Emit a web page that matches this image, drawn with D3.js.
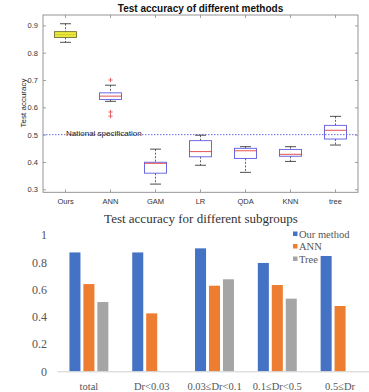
<!DOCTYPE html>
<html>
<head>
<meta charset="utf-8">
<script src="https://cdn.jsdelivr.net/npm/d3@7"></script>
<style>
  body { margin: 0; background: #fff; }
  svg { display: block; }
</style>
</head>
<body>
<div id="chart"></div>
<script>
// top chart: box plot per method
const methods = ["Ours", "ANN", "GAM", "LR", "QDA", "KNN", "tree"]
const whiskerLow  = [0.838, 0.622, 0.319, 0.388, 0.362, 0.402, 0.462]
const q1          = [0.856, 0.629, 0.359, 0.419, 0.413, 0.421, 0.484]
const median      = [0.866, 0.641, 0.395, 0.438, 0.441, 0.428, 0.516]
const q3          = [0.877, 0.653, 0.399, 0.478, 0.450, 0.446, 0.534]
const whiskerHigh = [0.906, 0.681, 0.447, 0.498, 0.456, 0.456, 0.567]
const outliers    = [[], [0.700, 0.583, 0.568], [], [], [], [], []]
const topTicks = [0.3, 0.4, 0.5, 0.6, 0.7, 0.8, 0.9]
const nationalSpec = 0.5

// bottom chart: grouped bars per subgroup
const groups = ["total", "Dr<0.03", "0.03≤Dr<0.1", "0.1≤Dr<0.5", "0.5≤Dr"]
const seriesNames = ["Our method", "ANN", "Tree"]
const ourValues  = [0.872, 0.872, 0.902, 0.795, 0.846]
const annValues  = [0.640, 0.425, 0.628, 0.633, 0.479]
const treeValues = [0.508, null, 0.675, 0.533, null]
const bottomTicks = [0, 0.2, 0.4, 0.6, 0.8, 1]

const width = 369, height = 392

const svg = d3.select("#chart").append("svg")
    .attr("width", width)
    .attr("height", height)

// ---------- top box plot ----------
const topM = {left: 43, right: 358, top: 15, bottom: 192.3}
const sans = "'Liberation Sans', Arial, sans-serif"

let x = d3.scaleBand()
    .domain(methods)
    .range([topM.left, topM.right])

let y = d3.scaleLinear()
    .domain([0.289, 0.938])
    .range([topM.bottom, topM.top])

let g1 = svg.append("g").attr("font-family", sans)

g1.append("text")
    .attr("x", 200.5)
    .attr("y", 12)
    .attr("text-anchor", "middle")
    .attr("font-size", 10)
    .attr("font-weight", "bold")
    .attr("fill", "#111")
    .text("Test accuracy of different methods")

// national specification line
g1.append("line")
    .attr("x1", topM.left).attr("x2", topM.right)
    .attr("y1", y(nationalSpec)).attr("y2", y(nationalSpec))
    .attr("stroke", "#5a5ae0")
    .attr("stroke-width", 0.9)
    .attr("stroke-dasharray", "1.5,1.5")

g1.append("text")
    .attr("x", 66)
    .attr("y", y(nationalSpec) + 1.5)
    .attr("font-size", 8)
    .attr("fill", "#222")
    .text("National specification")

// boxes
const cx = m => x(m) + x.bandwidth() / 2
const boxW = 22, capW = 11

let boxes = g1.append("g")
    .selectAll("g")
    .data(methods)
    .join("g")

boxes.append("line")
    .attr("x1", cx).attr("x2", cx)
    .attr("y1", (d, i) => y(whiskerHigh[i]))
    .attr("y2", (d, i) => y(q3[i]))
    .attr("stroke", "#222")
    .attr("stroke-width", 0.7)
    .attr("stroke-dasharray", "2,1.5")

boxes.append("line")
    .attr("x1", cx).attr("x2", cx)
    .attr("y1", (d, i) => y(q1[i]))
    .attr("y2", (d, i) => y(whiskerLow[i]))
    .attr("stroke", "#222")
    .attr("stroke-width", 0.7)
    .attr("stroke-dasharray", "2,1.5")

boxes.append("line")
    .attr("x1", d => cx(d) - capW / 2).attr("x2", d => cx(d) + capW / 2)
    .attr("y1", (d, i) => y(whiskerHigh[i]))
    .attr("y2", (d, i) => y(whiskerHigh[i]))
    .attr("stroke", "#222")
    .attr("stroke-width", 0.8)

boxes.append("line")
    .attr("x1", d => cx(d) - capW / 2).attr("x2", d => cx(d) + capW / 2)
    .attr("y1", (d, i) => y(whiskerLow[i]))
    .attr("y2", (d, i) => y(whiskerLow[i]))
    .attr("stroke", "#222")
    .attr("stroke-width", 0.8)

boxes.append("rect")
    .attr("x", d => cx(d) - boxW / 2)
    .attr("width", boxW)
    .attr("y", (d, i) => y(q3[i]))
    .attr("height", (d, i) => y(q1[i]) - y(q3[i]))
    .attr("fill", (d, i) => i == 0 ? "#f0ee3c" : "none")
    .attr("stroke", (d, i) => i == 0 ? "#6a6a30" : "#5a5ae0")
    .attr("stroke-width", 0.9)

boxes.append("line")
    .attr("x1", d => cx(d) - boxW / 2).attr("x2", d => cx(d) + boxW / 2)
    .attr("y1", (d, i) => y(median[i]))
    .attr("y2", (d, i) => y(median[i]))
    .attr("stroke", (d, i) => i == 0 ? "#c8c030" : "#e04040")
    .attr("stroke-width", 0.9)

// outliers as red plus signs
boxes.each(function(d, i) {
    d3.select(this).selectAll("path.out")
        .data(outliers[i])
        .join("path")
        .attr("class", "out")
        .attr("d", v => `M${cx(d) - 2.2},${y(v)}h4.4M${cx(d)},${y(v) - 2.2}v4.4`)
        .attr("stroke", "#e04848")
        .attr("stroke-width", 0.8)
})

// axes frame
g1.append("rect")
    .attr("x", topM.left).attr("y", topM.top)
    .attr("width", topM.right - topM.left)
    .attr("height", topM.bottom - topM.top)
    .attr("fill", "none")
    .attr("stroke", "#8a8a8a")
    .attr("stroke-width", 0.9)

let yAxisL = g1.append("g")
    .attr("transform", `translate(${topM.left},0)`)
    .call(d3.axisLeft(y).tickValues(topTicks).tickSize(-3).tickPadding(5).tickFormat(d3.format(".1f")))
let yAxisR = g1.append("g")
    .attr("transform", `translate(${topM.right},0)`)
    .call(d3.axisRight(y).tickValues(topTicks).tickSize(-3).tickFormat(""))
let xAxisB = g1.append("g")
    .attr("transform", `translate(0,${topM.bottom})`)
    .call(d3.axisBottom(x).tickSize(-3).tickPadding(6))
let xAxisT = g1.append("g")
    .attr("transform", `translate(0,${topM.top})`)
    .call(d3.axisTop(x).tickSize(-3).tickFormat(""))

for (const ax of [yAxisL, yAxisR, xAxisB, xAxisT]) {
    ax.select(".domain").remove()
    ax.selectAll(".tick line").attr("stroke", "#8a8a8a").attr("stroke-width", 0.8)
    ax.selectAll("text")
        .attr("font-family", sans)
        .attr("font-size", 7.5)
        .attr("fill", "#333")
}

g1.append("text")
    .attr("transform", "translate(26,103) rotate(-90)")
    .attr("text-anchor", "middle")
    .attr("font-size", 8)
    .attr("fill", "#222")
    .text("Test accuracy")

// ---------- bottom bar chart ----------
const serif = "'Liberation Serif', 'Times New Roman', serif"
const bot = {left: 57.5, right: 371.5, top: 235, bottom: 371.3}
const colors = ["#4472c4", "#ed7d31", "#a5a5a5"]
const seriesValues = [ourValues, annValues, treeValues]

let g2 = svg.append("g").attr("font-family", serif)

g2.append("text")
    .attr("x", 201)
    .attr("y", 223)
    .attr("text-anchor", "middle")
    .attr("font-size", 13)
    .attr("fill", "#333")
    .text("Test accuracy for different subgroups")

let x0 = d3.scaleBand()
    .domain(groups)
    .range([bot.left, bot.right])
    .paddingInner(0.38)
    .paddingOuter(0.19)

let x1 = d3.scaleBand()
    .domain(seriesNames)
    .range([0, x0.bandwidth()])
    .paddingInner(0.21)

let y2 = d3.scaleLinear()
    .domain([0, 1])
    .range([bot.bottom, bot.top])

let yAxis2 = g2.append("g")
    .attr("transform", "translate(47,0)")
    .call(d3.axisLeft(y2).tickValues(bottomTicks).tickSize(0).tickPadding(0).tickFormat(d => d == 0 || d == 1 ? d : d3.format(".1f")(d)))
yAxis2.select(".domain").remove()
yAxis2.selectAll("text")
    .attr("font-family", serif)
    .attr("font-size", 12)
    .attr("fill", "#555")

g2.append("g")
    .selectAll("g")
    .data(groups)
    .join("g")
    .attr("transform", d => `translate(${x0(d)},0)`)
    .selectAll("rect")
    .data((d, gi) => seriesNames.map((s, si) => ({s: s, si: si, v: seriesValues[si][gi]})).filter(e => e.v != null))
    .join("rect")
    .attr("x", e => x1(e.s))
    .attr("width", x1.bandwidth())
    .attr("y", e => y2(e.v))
    .attr("height", e => y2(0) - y2(e.v))
    .attr("fill", e => colors[e.si])

let xAxis2 = g2.append("g")
    .attr("transform", `translate(0,${bot.bottom})`)
    .call(d3.axisBottom(x0).tickSize(0).tickPadding(11))
xAxis2.select(".domain")
    .attr("d", `M${bot.left},0.5H${bot.right - 2}`)
    .attr("stroke", "#d0d0d0")
xAxis2.selectAll("text")
    .attr("font-family", serif)
    .attr("font-size", 10.5)
    .attr("fill", "#555")

// legend
let legend = g2.append("g")
    .selectAll("g")
    .data(seriesNames)
    .join("g")
    .attr("transform", (d, i) => `translate(293,${234 + i * 12.5})`)

legend.append("rect")
    .attr("x", 0).attr("y", -2.5)
    .attr("width", 4.5).attr("height", 4.5)
    .attr("fill", (d, i) => colors[i])

legend.append("text")
    .attr("x", 6)
    .attr("y", 3.5)
    .attr("font-size", 10.5)
    .attr("fill", "#555")
    .text(d => d)
</script>
</body>
</html>
